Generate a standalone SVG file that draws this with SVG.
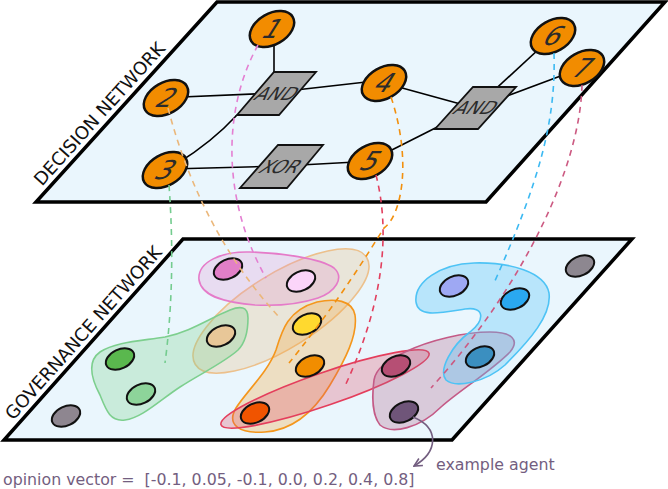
<svg xmlns="http://www.w3.org/2000/svg" width="668" height="489" viewBox="0 0 668 489">
<style>
.plane{fill:#eaf6fd;stroke:#000;stroke-width:3.5;stroke-linejoin:miter}
.blob{stroke-width:1.6}
.agent{stroke:#111;stroke-width:2}
.dnode{fill:#f28c00;stroke:#111;stroke-width:2.5}
.gate{fill:#a8a8a8;stroke:#111;stroke-width:1.8}
.edge{stroke:#000;stroke-width:1.6;fill:none}
.link{fill:none;stroke-width:1.6;stroke-dasharray:6 5}
.num{font-family:"DejaVu Sans",sans-serif;font-size:26px;fill:#2b2b2b;text-anchor:middle;dominant-baseline:central}
.gtxt{font-family:"DejaVu Sans",sans-serif;font-size:18px;fill:#2b2b2b;text-anchor:middle;dominant-baseline:central}
.plabel{font-family:"DejaVu Sans",sans-serif;font-size:18px;fill:#111;text-anchor:middle}
.note{font-family:"DejaVu Sans",sans-serif;font-size:15.8px;fill:#735e80;white-space:pre}
</style>
<defs>
<marker id="arr" viewBox="0 0 10 10" refX="9" refY="5" markerWidth="10" markerHeight="10" markerUnits="userSpaceOnUse" orient="auto">
<path d="M1,1 L9,5 L1,9" fill="none" stroke="#735e80" stroke-width="1.6"/>
</marker>
</defs>

<!-- governance plane -->
<g id="governance-plane">
<polygon class="plane" points="183,239 632,239 452,440 4,440"/>
<text class="plabel" transform="translate(88,337) rotate(-48.3)">GOVERNANCE NETWORK</text>
</g>

<g id="hyperedges">
<ellipse id="he-tan" class="blob" cx="281" cy="311" rx="101" ry="37" transform="rotate(-32 281 311)" fill="#e8c595" fill-opacity="0.35" stroke="#ecc08c"/>
<path id="he-pink" class="blob" d="M 199,280 C 197,262 222,251 250,252 C 280,253 320,258 334,268 C 345,278 335,292 318,298 C 300,304 275,306 255,305 C 230,303 202,298 199,280 Z" fill="#e38fd0" fill-opacity="0.25" stroke="#e57bc9"/>
<path id="he-green" class="blob" d="M 248,318 C 248,306 240,306 230,310 C 210,318 190,332 165,337 C 140,341 115,342 100,352 C 86,362 92,380 100,395 C 106,410 110,422 125,420 C 142,418 160,400 180,387 C 200,374 225,362 238,350 C 246,342 248,330 248,318 Z" fill="#7dcf8e" fill-opacity="0.3" stroke="#7dcf8e"/>
<path id="he-orange" class="blob" d="M 317,302 C 335,298 352,300 355,315 C 358,335 345,360 330,385 C 315,410 295,430 265,432 C 240,434 226,425 236,408 C 246,392 268,372 276,350 C 282,330 288,310 317,302 Z" fill="#f5a43a" fill-opacity="0.3" stroke="#f4961c"/>
<ellipse id="he-red" class="blob" cx="325" cy="389" rx="110" ry="16.5" transform="rotate(-19 325 389)" fill="#e0546e" fill-opacity="0.3" stroke="#e43e5c"/>
<path id="he-mauve" class="blob" d="M 374,380 C 372,395 372,415 380,425 C 392,435 420,428 441,407 C 460,390 490,372 510,352 C 520,340 512,332 490,332 C 465,332 430,340 405,352 C 388,360 376,368 374,380 Z" fill="#b4648a" fill-opacity="0.3" stroke="#c45a86"/>
<path id="he-blue" class="blob" d="M 416,302 C 414,282 440,264 474,263 C 510,262 545,272 549,293 C 552,315 530,340 505,365 C 485,383 455,388 446,380 C 438,370 452,345 470,332 C 485,320 485,306 465,309 C 440,313 418,318 416,302 Z" fill="#5cc6f5" fill-opacity="0.35" stroke="#4ec3f5"/>
</g>

<g id="agents">
<ellipse id="agent-grey1" class="agent" cx="66" cy="416" rx="15" ry="9.5" transform="rotate(-25 66 416)" fill="#8e8690"/>
<ellipse id="agent-green" class="agent" cx="120" cy="359" rx="15" ry="9.5" transform="rotate(-25 120 359)" fill="#5ab84e"/>
<ellipse id="agent-lightgreen" class="agent" cx="141" cy="394" rx="15" ry="9.5" transform="rotate(-25 141 394)" fill="#8dd49a"/>
<ellipse id="agent-tan" class="agent" cx="221" cy="336" rx="15" ry="9.5" transform="rotate(-25 221 336)" fill="#e8c798"/>
<ellipse id="agent-magenta" class="agent" cx="228" cy="269" rx="15" ry="9.5" transform="rotate(-25 228 269)" fill="#e27fc7"/>
<ellipse id="agent-pink" class="agent" cx="301" cy="281" rx="15" ry="9.5" transform="rotate(-25 301 281)" fill="#fbd5fa"/>
<ellipse id="agent-yellow" class="agent" cx="307" cy="324" rx="15" ry="9.5" transform="rotate(-25 307 324)" fill="#ffd92f"/>
<ellipse id="agent-orange" class="agent" cx="310" cy="366" rx="15" ry="9.5" transform="rotate(-25 310 366)" fill="#f18d00"/>
<ellipse id="agent-redorange" class="agent" cx="255" cy="413" rx="15" ry="9.5" transform="rotate(-25 255 413)" fill="#f05400"/>
<ellipse id="agent-crimson" class="agent" cx="396" cy="366" rx="15" ry="9.5" transform="rotate(-25 396 366)" fill="#b64f74"/>
<ellipse id="agent-purple" class="agent" cx="404" cy="412" rx="15" ry="9.5" transform="rotate(-25 404 412)" fill="#6f5579"/>
<ellipse id="agent-lavender" class="agent" cx="454" cy="286" rx="15" ry="9.5" transform="rotate(-25 454 286)" fill="#9ea8f3"/>
<ellipse id="agent-blue" class="agent" cx="515" cy="299" rx="15" ry="9.5" transform="rotate(-25 515 299)" fill="#2aa8f0"/>
<ellipse id="agent-teal" class="agent" cx="480" cy="357" rx="15" ry="9.5" transform="rotate(-25 480 357)" fill="#3b8fc0"/>
<ellipse id="agent-grey2" class="agent" cx="580" cy="266" rx="15" ry="9.5" transform="rotate(-25 580 266)" fill="#8d8790"/>
</g>

<!-- decision plane -->
<g id="decision-plane">
<polygon class="plane" points="217,2 665,2 486,202 36,202"/>
<text class="plabel" transform="translate(104,118) rotate(-47.9)">DECISION NETWORK</text>
</g>

<g id="decision-edges">
<line class="edge" x1="274" y1="35" x2="274" y2="80"/>
<line class="edge" x1="170" y1="97.5" x2="278" y2="93"/>
<line class="edge" x1="278" y1="92" x2="375" y2="81"/>
<path class="edge" d="M 178,163 Q 212,142 237,115"/>
<line class="edge" x1="170" y1="169" x2="282" y2="166"/>
<line class="edge" x1="282" y1="166" x2="365" y2="161.5"/>
<line class="edge" x1="384" y1="83" x2="475" y2="108"/>
<line class="edge" x1="370" y1="161" x2="475" y2="108"/>
<line class="edge" x1="553" y1="36" x2="475" y2="108"/>
<line class="edge" x1="582" y1="68" x2="475" y2="108"/>
</g>

<g id="gate-and1">
<polygon class="gate" points="274,72 316,72 279,115 237,115"/>
<text class="gtxt" transform="translate(277,94) skewX(-38)">AND</text>
</g>
<g id="gate-xor">
<polygon class="gate" points="278,145 323,145 287,188 240,188"/>
<text class="gtxt" transform="translate(281,167) skewX(-38)">XOR</text>
</g>
<g id="gate-and2">
<polygon class="gate" points="473,87 516,87 478,129 435,129"/>
<text class="gtxt" transform="translate(476,108) skewX(-38)">AND</text>
</g>

<g id="node-1"><ellipse class="dnode" cx="272" cy="29" rx="24" ry="15.5" transform="rotate(-30 272 29)"/><text class="num" transform="translate(273,29) skewX(-32)">1</text></g>
<g id="node-2"><ellipse class="dnode" cx="166" cy="98" rx="24" ry="15.5" transform="rotate(-30 166 98)"/><text class="num" transform="translate(167,98) skewX(-32)">2</text></g>
<g id="node-3"><ellipse class="dnode" cx="165" cy="170" rx="24" ry="15.5" transform="rotate(-30 165 170)"/><text class="num" transform="translate(166,170) skewX(-32)">3</text></g>
<g id="node-4"><ellipse class="dnode" cx="384" cy="83" rx="24" ry="15.5" transform="rotate(-30 384 83)"/><text class="num" transform="translate(385,83) skewX(-32)">4</text></g>
<g id="node-5"><ellipse class="dnode" cx="370" cy="161" rx="24" ry="15.5" transform="rotate(-30 370 161)"/><text class="num" transform="translate(371,161) skewX(-32)">5</text></g>
<g id="node-6"><ellipse class="dnode" cx="553" cy="36" rx="24" ry="15.5" transform="rotate(-30 553 36)"/><text class="num" transform="translate(554,36) skewX(-32)">6</text></g>
<g id="node-7"><ellipse class="dnode" cx="582" cy="68" rx="24" ry="15.5" transform="rotate(-30 582 68)"/><text class="num" transform="translate(583,68) skewX(-32)">7</text></g>

<g id="links">
<path class="link" stroke="#74cc8f" d="M 169,185 Q 176,280 165,363"/>
<path class="link" stroke="#ebb77a" d="M 168,108 Q 200,230 278,316"/>
<path class="link" stroke="#e47fd2" d="M 258,45 C 222,110 222,200 266,278"/>
<path class="link" stroke="#f2900e" d="M 391,97 C 412,160 402,215 384,228 C 370,250 340,300 289,363"/>
<path class="link" stroke="#e23f5e" d="M 376,175 C 390,230 385,300 345,386"/>
<path class="link" stroke="#3cb9f2" d="M 554,53 C 556,120 540,180 494,283"/>
<path class="link" stroke="#cc5a82" d="M 582,85 C 580,170 520,290 431,388"/>
<path stroke="#735e80" stroke-width="1.6" fill="none" marker-end="url(#arr)" d="M 413,417 C 440,428 438,452 414,466"/>
</g>

<text class="note" x="3" y="485" xml:space="preserve">opinion vector =  [-0.1, 0.05, -0.1, 0.0, 0.2, 0.4, 0.8]</text>
<text class="note" x="436" y="470">example agent</text>
</svg>
